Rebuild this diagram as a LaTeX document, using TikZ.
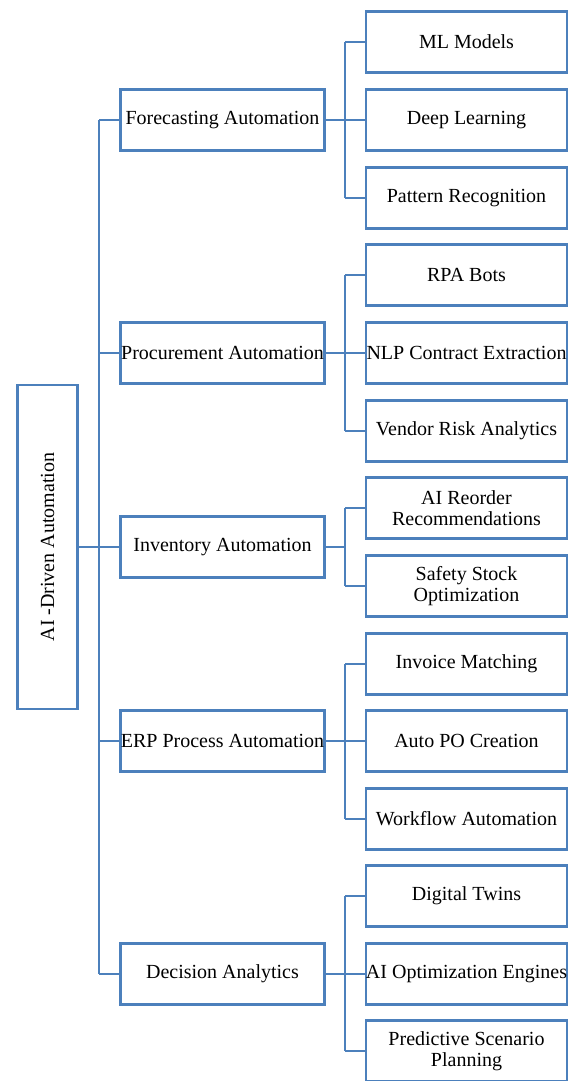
\documentclass[tikz,border=0pt]{standalone}
\usepackage{fontspec}
\setmainfont{Liberation Serif}
\definecolor{linkblue}{RGB}{76,128,188}
\begin{document}
\begin{tikzpicture}[x=1pt,y=-1pt,
  box/.style={draw=linkblue, line width=2.8pt, fill=white, inner sep=0pt,
    align=center, font=\fontsize{20}{20.5}\selectfont},
  midbox/.style={box, minimum width=204pt, minimum height=61pt},
  leafbox/.style={box, minimum width=201pt, minimum height=61pt},
  link/.style={draw=linkblue, line width=2.6pt}]
\useasboundingbox (0,0) rectangle (573,1081);

% root
\node[box, minimum width=60pt, minimum height=324pt] (root) at (47.5,547)
  {\rotatebox{90}{AI -Driven Automation}};

% second level
\node[midbox] (f1) at (222.5,120) {Forecasting Automation};
\node[midbox] (f2) at (222.5,353) {Procurement Automation};
\node[midbox] (f3) at (222.5,547) {Inventory Automation};
\node[midbox] (f4) at (222.5,741) {ERP Process Automation};
\node[midbox] (f5) at (222.5,974) {Decision Analytics};

% leaves
\node[leafbox] (c11) at (466.5,42)  {ML Models};
\node[leafbox] (c12) at (466.5,120) {Deep Learning};
\node[leafbox] (c13) at (466.5,198) {Pattern Recognition};
\node[leafbox] (c21) at (466.5,275) {RPA Bots};
\node[leafbox] (c22) at (466.5,353) {NLP Contract Extraction};
\node[leafbox] (c23) at (466.5,431) {Vendor Risk Analytics};
\node[leafbox] (c31) at (466.5,508) {AI Reorder\\Recommendations};
\node[leafbox] (c32) at (466.5,586) {Safety Stock\\Optimization};
\node[leafbox] (c41) at (466.5,664) {Invoice Matching};
\node[leafbox] (c42) at (466.5,741) {Auto PO Creation};
\node[leafbox] (c43) at (466.5,819) {Workflow Automation};
\node[leafbox] (c51) at (466.5,896) {Digital Twins};
\node[leafbox] (c52) at (466.5,974) {AI Optimization Engines};
\node[leafbox] (c53) at (466.5,1051) {Predictive Scenario\\Planning};

% bus positions
\coordinate (tk) at (99,0);
\coordinate (sb) at (345,0);

% trunk
\draw[link] (root.east) -- (root.east -| tk);
\draw[link] (f1.west -| tk) -- (f5.west -| tk);
\foreach \n in {f1,f2,f3,f4,f5}
  \draw[link] (\n.west -| tk) -- (\n.west);

% sub-buses
\foreach \p/\first/\last/\kids in {f1/c11/c13/{c11,c12,c13},
    f2/c21/c23/{c21,c22,c23}, f3/c31/c32/{c31,c32},
    f4/c41/c43/{c41,c42,c43}, f5/c51/c53/{c51,c52,c53}} {
  \draw[link] (\p.east) -- (\p.east -| sb);
  \draw[link] (\first.west -| sb) -- (\last.west -| sb);
  \foreach \k in \kids
    \draw[link] (\k.west -| sb) -- (\k.west);
}
\end{tikzpicture}
\end{document}
